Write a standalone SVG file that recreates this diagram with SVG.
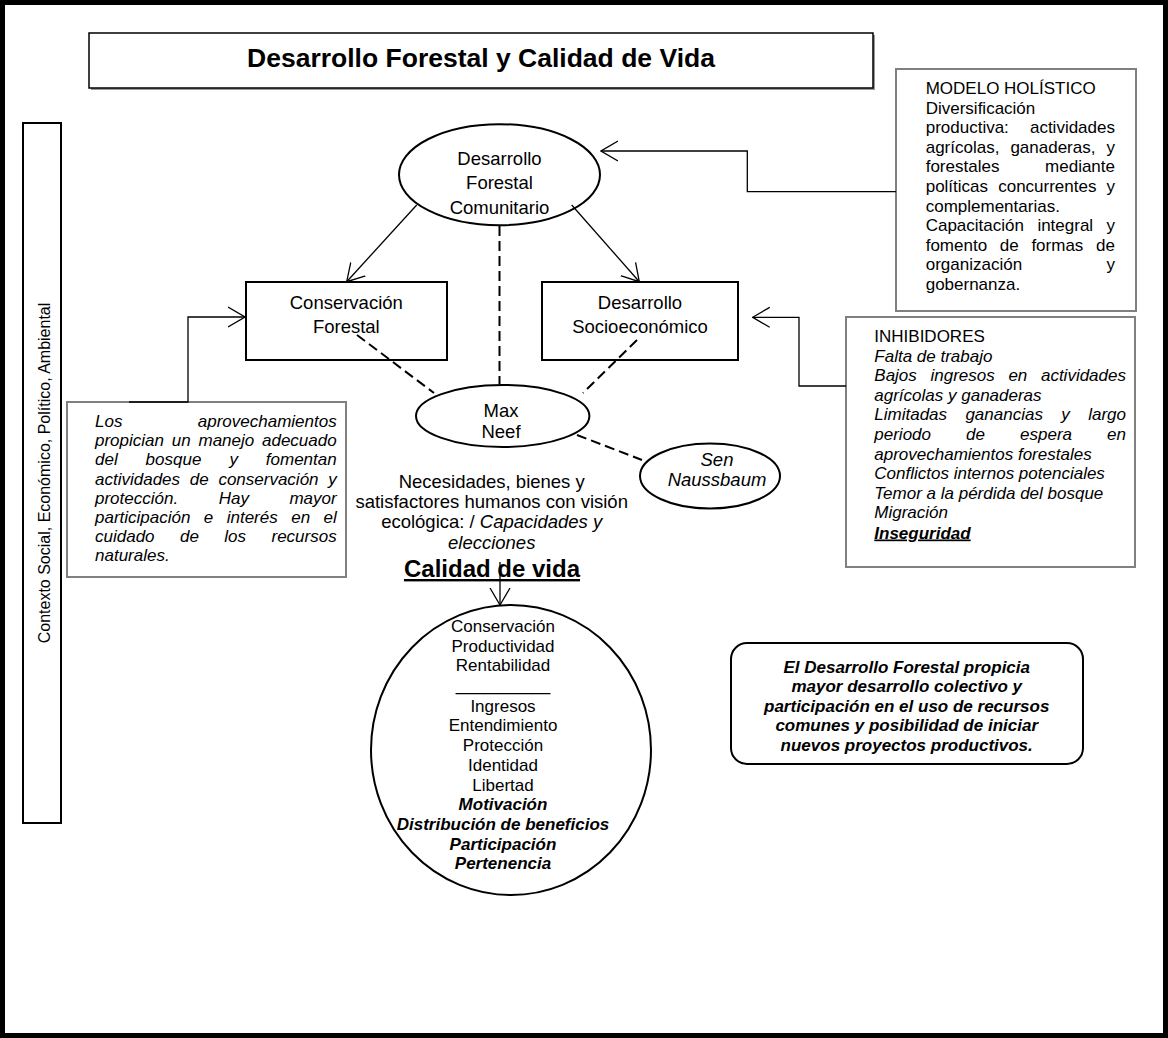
<svg xmlns="http://www.w3.org/2000/svg" width="1168" height="1038" viewBox="0 0 1168 1038">
<defs>
<marker id="arr" markerUnits="userSpaceOnUse" viewBox="0 0 18 22" refX="17" refY="11" markerWidth="18" markerHeight="22" orient="auto">
<path d="M0,1 L17,11 L0,21" fill="none" stroke="#000" stroke-width="1.3"/>
</marker>
<style>
text{font-family:"Liberation Sans",Arial,sans-serif;fill:#000}
.f17{font-size:17px}
.f185{font-size:18.5px}
.it{font-style:italic}
.b{font-weight:bold}
.c{text-anchor:middle}
.e{text-anchor:end}
.box{fill:#fff;stroke:#000;stroke-width:2}
.gbox{fill:#fff;stroke:#808080;stroke-width:2}
.con{fill:none;stroke:#000;stroke-width:1.3}
.dash{fill:none;stroke:#000;stroke-width:2;stroke-dasharray:10 5}
</style>
</defs>
<rect x="0" y="0" width="1168" height="1038" fill="#fff"/>
<rect x="2.5" y="2.5" width="1163" height="1033" fill="none" stroke="#000" stroke-width="5"/>

<g id="title">
<rect x="91" y="35" width="784" height="55" fill="#9a9a9a"/>
<rect x="89" y="33" width="784" height="55" fill="#fff" stroke="#000" stroke-width="1.5"/>
<text x="481" y="67" class="c b" style="font-size:26.5px">Desarrollo Forestal y Calidad de Vida</text>
</g>

<g id="contexto">
<rect x="23" y="123" width="38" height="700" class="box"/>
<text transform="translate(50,473) rotate(-90)" class="c" style="font-size:16px">Contexto Social, Económico, Político, Ambiental</text>
</g>

<g id="modelo">
<rect x="896" y="69" width="240" height="242" class="gbox"/>
<text class="f17" x="925.7" y="94">MODELO HOLÍSTICO</text>
<text class="f17" x="925.7" y="113.6">Diversificación</text>
<text class="f17" x="925.7" y="133.2">productiva:</text>
<text class="f17 e" x="1115" y="133.2">actividades</text>
<text class="f17" y="152.8"><tspan x="925.7">agrícolas,</tspan><tspan x="1010.4">ganaderas,</tspan></text>
<text class="f17 e" x="1115" y="152.8">y</text>
<text class="f17" x="925.7" y="172.4">forestales</text>
<text class="f17 e" x="1115" y="172.4">mediante</text>
<text class="f17" y="192"><tspan x="925.7">políticas</tspan><tspan x="998.2">concurrentes</tspan></text>
<text class="f17 e" x="1115" y="192">y</text>
<text class="f17" x="925.7" y="211.6">complementarias.</text>
<text class="f17" y="231.2"><tspan x="925.7">Capacitación</tspan><tspan x="1037.4">integral</tspan></text>
<text class="f17 e" x="1115" y="231.2">y</text>
<text class="f17" y="250.8"><tspan x="925.7">fomento</tspan><tspan x="999.8">de</tspan><tspan x="1031.4">formas</tspan></text>
<text class="f17 e" x="1115" y="250.8">de</text>
<text class="f17" x="925.7" y="270.4">organización</text>
<text class="f17 e" x="1115" y="270.4">y</text>
<text class="f17" x="925.7" y="290">gobernanza.</text>
</g>

<g id="inhibidores">
<rect x="846" y="317" width="289" height="250" class="gbox"/>
<text class="f17" x="874.3" y="342">INHIBIDORES</text>
<text class="f17 it" x="874.3" y="361.6">Falta de trabajo</text>
<text class="f17 it" y="381.2"><tspan x="874.3">Bajos</tspan><tspan x="930.5">ingresos</tspan><tspan x="1008.4">en</tspan></text>
<text class="f17 it e" x="1126" y="381.2">actividades</text>
<text class="f17 it" x="874.3" y="400.8">agrícolas y ganaderas</text>
<text class="f17 it" y="420.4"><tspan x="874.3">Limitadas</tspan><tspan x="965.4">ganancias</tspan><tspan x="1061.3">y</tspan></text>
<text class="f17 it e" x="1126" y="420.4">largo</text>
<text class="f17 it" y="440"><tspan x="874.3">periodo</tspan><tspan x="966.1">de</tspan><tspan x="1020.1">espera</tspan></text>
<text class="f17 it e" x="1126" y="440">en</text>
<text class="f17 it" x="874.3" y="459.6">aprovechamientos forestales</text>
<text class="f17 it" x="874.3" y="479.2">Conflictos internos potenciales</text>
<text class="f17 it" x="874.3" y="498.8">Temor a la pérdida del bosque</text>
<text class="f17 it" x="874.3" y="518.4">Migración</text>
<text class="f17 it b" x="874.3" y="538.5" style="text-decoration:underline">Inseguridad</text>
</g>

<g id="aprovechamientos">
<rect x="67" y="402" width="279" height="175" class="gbox"/>
<text class="f17 it" x="95" y="427">Los</text>
<text class="f17 it e" x="336.7" y="427">aprovechamientos</text>
<text class="f17 it" y="446.2"><tspan x="95">propician</tspan><tspan x="171.8">un</tspan><tspan x="198.5">manejo</tspan></text>
<text class="f17 it e" x="336.7" y="446.2">adecuado</text>
<text class="f17 it" y="465.4"><tspan x="95">del</tspan><tspan x="145.6">bosque</tspan><tspan x="229.4">y</tspan></text>
<text class="f17 it e" x="336.7" y="465.4">fomentan</text>
<text class="f17 it" y="484.6"><tspan x="95">actividades</tspan><tspan x="189.7">de</tspan><tspan x="218.4">conservación</tspan></text>
<text class="f17 it e" x="336.7" y="484.6">y</text>
<text class="f17 it" y="503.8"><tspan x="95">protección.</tspan><tspan x="218.7">Hay</tspan></text>
<text class="f17 it e" x="336.7" y="503.8">mayor</text>
<text class="f17 it" y="523"><tspan x="95">participación</tspan><tspan x="203.8">e</tspan><tspan x="226.7">interés</tspan><tspan x="291.2">en</tspan></text>
<text class="f17 it e" x="336.7" y="523">el</text>
<text class="f17 it" y="542.2"><tspan x="95">cuidado</tspan><tspan x="180">de</tspan><tspan x="224.3">los</tspan></text>
<text class="f17 it e" x="336.7" y="542.2">recursos</text>
<text class="f17 it" x="95" y="561.4">naturales.</text>
</g>

<g id="dfc">
<ellipse cx="499.5" cy="174.7" rx="100.5" ry="50.5" class="box"/>
<text class="f185 c" x="499.5" y="165">Desarrollo</text>
<text class="f185 c" x="499.5" y="189">Forestal</text>
<text class="f185 c" x="499.5" y="214">Comunitario</text>
</g>

<g id="conservacion">
<rect x="246" y="282" width="201" height="78" class="box"/>
<text class="f185 c" x="346.3" y="309">Conservación</text>
<text class="f185 c" x="346.3" y="333">Forestal</text>
</g>

<g id="socioeconomico">
<rect x="542" y="282" width="196" height="78" class="box"/>
<text class="f185 c" x="640" y="309">Desarrollo</text>
<text class="f185 c" x="640" y="333">Socioeconómico</text>
</g>

<g id="maxneef">
<ellipse cx="502.7" cy="416" rx="86.7" ry="31" class="box"/>
<text class="f185 c" x="501" y="417">Max</text>
<text class="f185 c" x="501" y="438">Neef</text>
</g>

<g id="sen">
<ellipse cx="710" cy="476" rx="70" ry="32.5" class="box"/>
<text class="f185 c it" x="717" y="466">Sen</text>
<text class="f185 c it" x="717" y="486">Naussbaum</text>
</g>

<g id="necesidades">
<text class="f185 c" x="491.7" y="488">Necesidades, bienes y</text>
<text class="f185 c" x="491.7" y="508">satisfactores humanos con visión</text>
<text class="f185 c" x="491.7" y="528">ecológica: / <tspan class="it">Capacidades y</tspan></text>
<text class="f185 c it" x="491.7" y="549">elecciones</text>
<text class="c b" x="492" y="577" style="font-size:24px;text-decoration:underline">Calidad de vida</text>
</g>

<g id="calidad">
<ellipse cx="511" cy="750" rx="140" ry="145" class="box"/>
<text class="f17 c" x="503" y="632">Conservación</text>
<text class="f17 c" x="503" y="651.7">Productividad</text>
<text class="f17 c" x="503" y="671.4">Rentabilidad</text>
<text class="f17 c" x="503" y="691">__________</text>
<text class="f17 c" x="503" y="711.7">Ingresos</text>
<text class="f17 c" x="503" y="731.4">Entendimiento</text>
<text class="f17 c" x="503" y="751.1">Protección</text>
<text class="f17 c" x="503" y="770.8">Identidad</text>
<text class="f17 c" x="503" y="790.5">Libertad</text>
<text class="f17 c b it" x="503" y="810.2">Motivación</text>
<text class="f17 c b it" x="503" y="829.9">Distribución de beneficios</text>
<text class="f17 c b it" x="503" y="849.6">Participación</text>
<text class="f17 c b it" x="503" y="869.3">Pertenencia</text>
</g>

<g id="conclusion">
<rect x="731" y="643" width="352" height="121" rx="16" class="box"/>
<text class="f17 c b it" x="906.7" y="672.5">El Desarrollo Forestal propicia</text>
<text class="f17 c b it" x="906.7" y="692">mayor desarrollo colectivo y</text>
<text class="f17 c b it" x="906.7" y="711.5">participación en el uso de recursos</text>
<text class="f17 c b it" x="906.7" y="731">comunes y posibilidad de iniciar</text>
<text class="f17 c b it" x="906.7" y="750.5">nuevos proyectos productivos.</text>
</g>

<g id="connectors">
<path class="con" d="M416.7,205 L346.7,281.7" marker-end="url(#arr)"/>
<path class="con" d="M571.7,205 L639.3,281.7" marker-end="url(#arr)"/>
<path class="con" d="M129,402 H188 V317 H245" marker-end="url(#arr)"/>
<path class="con" d="M896,191.7 H747.3 V151 H601" marker-end="url(#arr)"/>
<path class="con" d="M846,386 H799 V317.3 H752.7" marker-end="url(#arr)"/>
<path class="con" d="M500,562 V605" marker-end="url(#arr)"/>
<path class="dash" d="M499.5,226 V384.5"/>
<path class="dash" d="M357,335 L434,393"/>
<path class="dash" d="M637,340 L583,393"/>
<path class="dash" d="M577,435 L642,460"/>
</g>
</svg>
